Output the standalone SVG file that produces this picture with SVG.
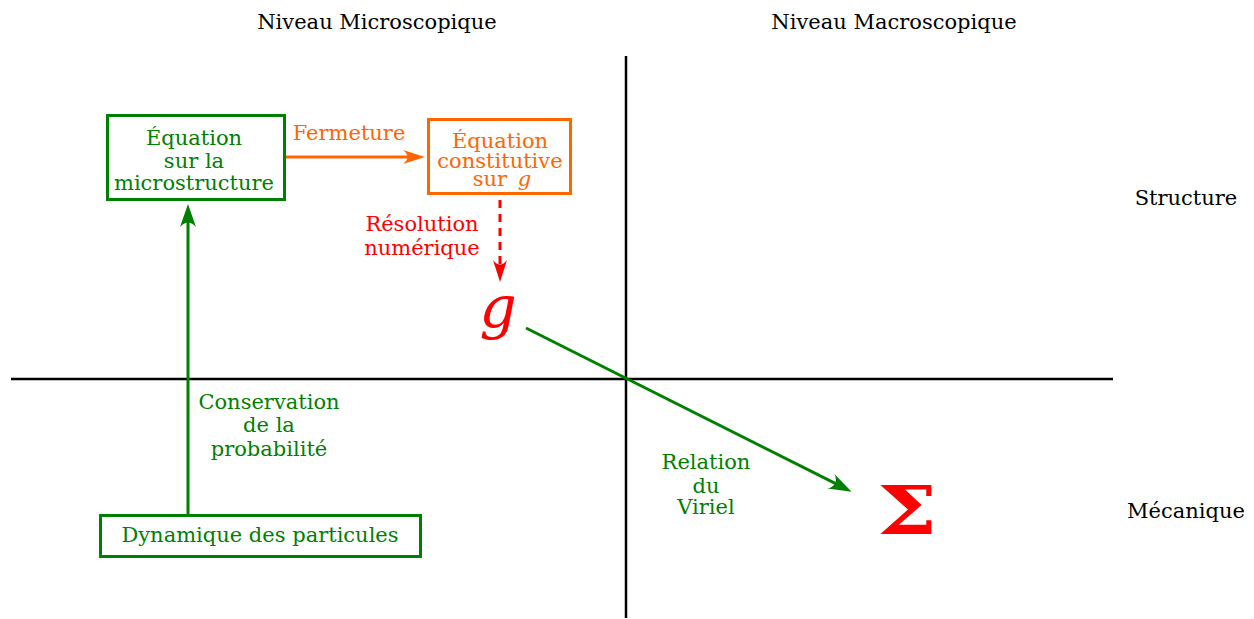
<svg xmlns="http://www.w3.org/2000/svg" width="1254" height="619" viewBox="0 0 1254 619">
<style>
text{font-family:'DejaVu Serif','Liberation Serif',serif;font-size:21px;text-anchor:middle}
.k{fill:#000}
.gr{fill:#008000}
.or{fill:#ff6600}
.rd{fill:#ff0000}
.axis{stroke:#000;stroke-width:2.5;fill:none}
.box{fill:#fff;stroke-width:3}
</style>
<defs>
<marker id="ag" markerUnits="userSpaceOnUse" viewBox="-14 -10 26 20" refX="0" refY="0" markerWidth="26" markerHeight="20" orient="auto"><path d="M10,0 L-13,-8 Q-4,0 -13,8 Z" fill="#008000"/></marker>
<marker id="ao" markerUnits="userSpaceOnUse" viewBox="-14 -10 26 20" refX="0" refY="0" markerWidth="26" markerHeight="20" orient="auto"><path d="M10,0 L-12,-7 Q-3,0 -12,7 Z" fill="#ff6600"/></marker>
<marker id="ar" markerUnits="userSpaceOnUse" viewBox="-14 -10 26 20" refX="0" refY="0" markerWidth="26" markerHeight="20" orient="auto"><path d="M10,0 L-12,-7 Q-3,0 -12,7 Z" fill="#ff0000"/></marker>
</defs>
<rect width="1254" height="619" fill="#fff"/>
<g id="axes">
<line class="axis" x1="626" y1="56" x2="626" y2="618"/>
<line class="axis" x1="11" y1="379" x2="1113" y2="379"/>
</g>
<g id="labels">
<text class="k" x="377" y="29">Niveau Microscopique</text>
<text class="k" x="894" y="29">Niveau Macroscopique</text>
<text class="k" x="1186" y="205">Structure</text>
<text class="k" x="1186" y="518">Mécanique</text>
</g>
<g id="connectors">
<line x1="188" y1="515" x2="188" y2="214" stroke="#008000" stroke-width="3" marker-end="url(#ag)"/>
<line x1="286" y1="157" x2="415" y2="157" stroke="#ff6600" stroke-width="3" marker-end="url(#ao)"/>
<line x1="500" y1="200" x2="500" y2="272" stroke="#ff0000" stroke-width="3" stroke-dasharray="8,6" marker-end="url(#ar)"/>
<line x1="526" y1="328" x2="842.7" y2="487.2" stroke="#008000" stroke-width="3" marker-end="url(#ag)"/>
<text class="or" x="349" y="140">Fermeture</text>
<text class="rd" x="422" y="231">Résolution</text>
<text class="rd" x="422" y="255">numérique</text>
<text class="gr" x="269" y="409">Conservation</text>
<text class="gr" x="269" y="432">de la</text>
<text class="gr" x="269" y="456">probabilité</text>
<text class="gr" x="706" y="469">Relation</text>
<text class="gr" x="706" y="493">du</text>
<text class="gr" x="706" y="514">Viriel</text>
</g>
<g id="node-micro">
<rect class="box" x="107.5" y="115.5" width="177" height="84" stroke="#008000"/>
<text class="gr" x="194" y="145">Équation</text>
<text class="gr" x="194" y="168">sur la</text>
<text class="gr" x="194" y="190">microstructure</text>
</g>
<g id="node-constitutive">
<rect class="box" x="428.5" y="119.5" width="142" height="74" stroke="#ff6600"/>
<text class="or" x="500" y="148">Équation</text>
<text class="or" x="500" y="168">constitutive</text>
<text class="or" x="502" y="186">sur <tspan dx="4" font-style="italic">g</tspan></text>
</g>
<g id="node-g">
<text class="rd" x="498" y="327" style="font-size:58px;font-style:italic">g</text>
</g>
<g id="node-sigma">
<text class="rd" transform="translate(907,534) scale(1.25,1)" x="0" y="0" style="font-size:68px;font-weight:bold">Σ</text>
</g>
<g id="node-dynamique">
<rect class="box" x="100.5" y="515.5" width="320" height="41" stroke="#008000"/>
<text class="gr" x="260" y="542">Dynamique des particules</text>
</g>
</svg>
